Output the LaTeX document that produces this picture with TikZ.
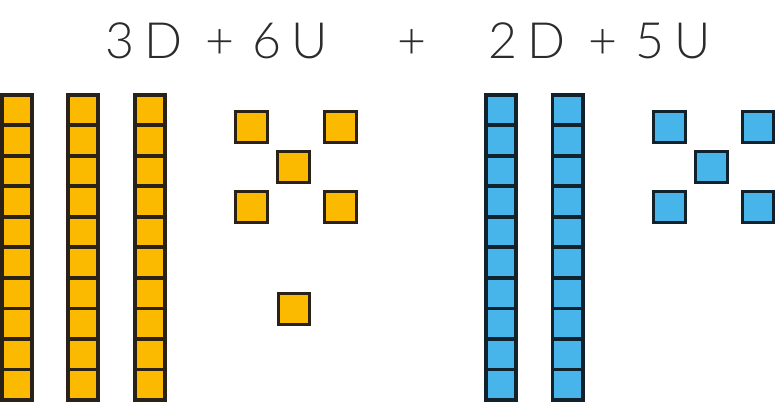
\documentclass[tikz,border=0pt]{standalone}
\usepackage{fontspec}
\setmainfont{Lato Light}
\definecolor{ylw}{HTML}{FBB900}
\definecolor{ylwline}{HTML}{2A2216}
\definecolor{blu}{HTML}{47B5E9}
\definecolor{bluline}{HTML}{12222C}
\definecolor{txt}{HTML}{2B2B2B}
\begin{document}
\begin{tikzpicture}[x=1pt,y=-1pt,
  cellbase/.style={draw, line width=3.6pt, minimum width=30.4pt, minimum height=30.5pt, inner sep=0pt, outer sep=0pt},
  ycell/.style={cellbase, fill=ylw, draw=ylwline},
  bcell/.style={cellbase, fill=blu, draw=bluline},
  yunit/.style={draw=ylwline, fill=ylw, line width=3.4pt, minimum size=31.5pt, inner sep=0pt},
  bunit/.style={draw=bluline, fill=blu, line width=3.4pt, minimum size=31.5pt, inner sep=0pt},
  lbl/.style={text=txt, font=\fontsize{50}{60}\selectfont, inner sep=0pt, anchor=base}]
\useasboundingbox (0,0) rectangle (775,411);
% title
\node[lbl] (t1) at (120,59) {3};
\node[lbl] (t2) at (163.5,59) {D};
\node[lbl] (t3) at (220,59) {+};
\node[lbl] (t4) at (266.5,59) {6};
\node[lbl] (t5) at (310,59) {U};
\node[lbl] (t6) at (411.5,59) {+};
\node[lbl] (t7) at (503,59) {2};
\node[lbl] (t8) at (546.5,59) {D};
\node[lbl] (t9) at (603,59) {+};
\node[lbl] (t10) at (650,59) {5};
\node[lbl] (t11) at (693,59) {U};
% yellow rods
\foreach \r/\cx in {1/17,2/83,3/150}{
  \foreach \i in {0,...,9}{
    \node[ycell] (y\r-\i) at (\cx,{94.8+30.5*(\i+0.5)}) {};
  }
}
% blue rods
\foreach \r/\cx in {1/501,2/567.5}{
  \foreach \i in {0,...,9}{
    \node[bcell] (b\r-\i) at (\cx,{94.8+30.5*(\i+0.5)}) {};
  }
}
% yellow units
\node[yunit] (yu1) at (251.5,127) {};
\node[yunit] (yu2) at (340.5,127) {};
\node[yunit] (yu3) at (293.5,167) {};
\node[yunit] (yu4) at (251.5,207) {};
\node[yunit] (yu5) at (340.5,207) {};
\node[yunit] (yu6) at (294,309) {};
% blue units
\node[bunit] (bu1) at (669.5,127) {};
\node[bunit] (bu2) at (758,127) {};
\node[bunit] (bu3) at (711.5,167) {};
\node[bunit] (bu4) at (669.5,207) {};
\node[bunit] (bu5) at (758,207) {};
\end{tikzpicture}
\end{document}
